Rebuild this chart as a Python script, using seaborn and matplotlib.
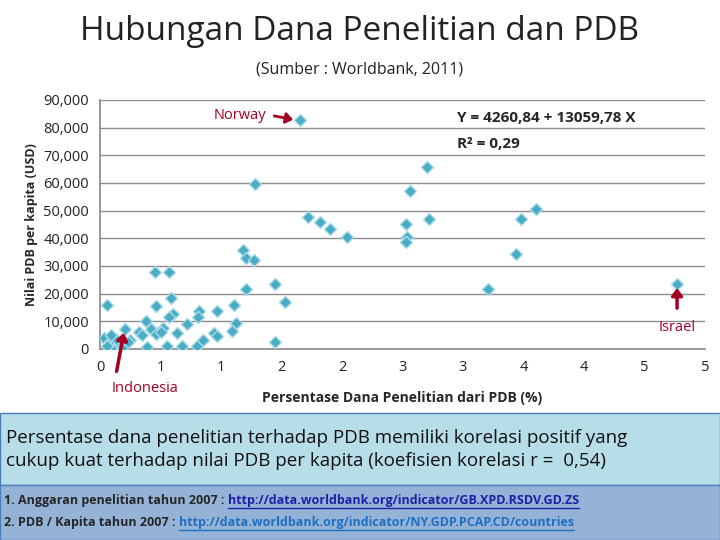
import matplotlib
matplotlib.use("Agg")
import matplotlib.pyplot as plt
import seaborn as sns
import pandas as pd
from matplotlib.patches import Rectangle
from matplotlib.lines import Line2D

x_pct = [1.65,1.28,2.70,2.56,1.72,1.82,1.90,2.04,2.53,2.54,2.53,2.72,3.60,3.48,3.44,3.21,4.77,
         1.18,1.21,1.27,1.21,1.45,1.53,1.45,0.45,0.57,0.06,0.46,0.59,0.60,0.57,0.82,0.81,0.97,
         1.11,1.12,1.09,0.72,0.64,0.38,0.42,0.52,0.46,0.50,0.32,0.35,0.21,0.39,0.55,0.68,0.80,
         0.85,0.94,0.97,0.25,0.03,0.08,0.11,0.16,0.06,0.13,0.19,0.23,0.09]
y_gdp = [82600,59700,65700,56900,47700,45900,43300,40600,45000,40400,38600,46900,50500,46800,34400,21700,23500,
         35900,32900,32200,21700,23500,17000,2600,27800,27800,16000,15500,18400,12600,11400,13700,11600,13800,
         16000,9200,6500,8800,5900,10000,7300,7700,5300,6100,6000,5100,7000,600,1100,1000,1100,
         3100,5800,4500,3300,4000,2400,1200,1800,1200,3700,600,2400,4900]
x_ticks = [0,0.5,1,1.5,2,2.5,3,3.5,4,4.5,5]
x_tick_labels = ["0","1","1","2","2","3","3","4","4","5","5"]
y_ticks = list(range(0, 90001, 10000))

sns.set_theme(style="white")
plt.rcParams['font.family'] = ['Open Sans', 'DejaVu Sans']

fig = plt.figure(figsize=(7.2, 5.4), dpi=100)
ax = fig.add_axes([0.139, 0.354, 0.840, 0.461])
df = pd.DataFrame({"x": x_pct, "y": y_gdp})
sns.scatterplot(data=df, x="x", y="y", ax=ax, marker="D", s=38, color="#4bacc6",
                edgecolor="#a9dbe8", linewidth=1.0, zorder=3)
ax.set_xlim(0, 5); ax.set_ylim(0, 90000)
ax.set_xticks(x_ticks); ax.set_xticklabels(x_tick_labels)
ax.set_yticks(y_ticks); ax.set_yticklabels([f"{v:,}" for v in y_ticks])
ax.tick_params(labelsize=10.5, colors="#222222", length=0, pad=8)
ax.grid(axis="y", color="#8c8c8c", lw=1)
for s in ["top", "right"]:
    ax.spines[s].set_visible(False)
for s in ["left", "bottom"]:
    ax.spines[s].set_color("#8c8c8c")
ax.set_xlabel("Persentase Dana Penelitian dari PDB (%)", fontsize=10, fontweight="bold")
ax.set_ylabel("Nilai PDB per kapita (USD)", fontsize=9, fontweight="bold", labelpad=4)
ax.xaxis.set_label_coords(0.5, -0.17)

red = "#a50021"
ax.annotate("Norway", xy=(1.63, 82600), xytext=(0.94, 84200), color=red, fontsize=10.5, va="center",
            arrowprops=dict(arrowstyle="-|>,head_width=0.3", color=red, lw=2, shrinkA=0, shrinkB=3,
                            relpos=(1.15, 0.5)))
ax.annotate("Israel", xy=(4.77, 23000), xytext=(4.77, 7800), color=red, fontsize=10.5, ha="center", va="center",
            arrowprops=dict(arrowstyle="-|>,head_width=0.3", color=red, lw=2.5, shrinkA=6, shrinkB=2))
ax.annotate("Indonesia", xy=(0.2, 6800), xytext=(0.37, -14500), color=red, fontsize=10.5, ha="center", va="center",
            annotation_clip=False,
            arrowprops=dict(arrowstyle="-|>,head_width=0.3", color=red, lw=2.5, shrinkA=5, shrinkB=2,
                            relpos=(0.05, 1.0)))
ax.text(2.95, 83500, "Y = 4260,84 + 13059,78 X", fontsize=11, fontweight="bold", va="center")
ax.text(2.95, 74000, "R² = 0,29", fontsize=11, fontweight="bold", va="center")

fig.text(0.5, 0.942, "Hubungan Dana Penelitian dan PDB", ha="center", va="center", fontsize=24, color="#222222")
fig.text(0.5, 0.872, "(Sumber : Worldbank, 2011)", ha="center", va="center", fontsize=11.5, color="#222222")

fig.patches.append(Rectangle((0.0, 0.102), 1.0, 0.133, transform=fig.transFigure,
                             facecolor="#b7dde8", edgecolor="#4a7ebb", lw=1))
fig.patches.append(Rectangle((0.0, 0.0), 1.0, 0.102, transform=fig.transFigure,
                             facecolor="#95b3d7", edgecolor="#4a7ebb", lw=1))
fig.text(0.008, 0.167, "Persentase dana penelitian terhadap PDB memiliki korelasi positif yang\n"
         "cukup kuat terhadap nilai PDB per kapita (koefisien korelasi r =  0,54)",
         fontsize=13.5, va="center", linespacing=1.35, color="#111111")

fig.canvas.draw()
r = fig.canvas.get_renderer()
def line(y, label, url, col):
    t = fig.text(0.006, y, label, fontsize=9, fontweight="bold", va="center")
    bb = t.get_window_extent(r)
    x2 = bb.x1 / fig.bbox.width
    u = fig.text(x2, y, url, fontsize=9, fontweight="bold", va="center", color=col)
    ub = u.get_window_extent(r)
    fig.add_artist(Line2D([ub.x0 / 720, ub.x1 / 720], [(ub.y0 - 1) / 540] * 2, color=col, lw=1,
                          transform=fig.transFigure))
line(0.074, "1. Anggaran penelitian tahun 2007 : ", "http://data.worldbank.org/indicator/GB.XPD.RSDV.GD.ZS", "#1f1fa8")
line(0.032, "2. PDB / Kapita tahun 2007 : ", "http://data.worldbank.org/indicator/NY.GDP.PCAP.CD/countries", "#1f6fc0")
fig.savefig("out.png", dpi=100)
